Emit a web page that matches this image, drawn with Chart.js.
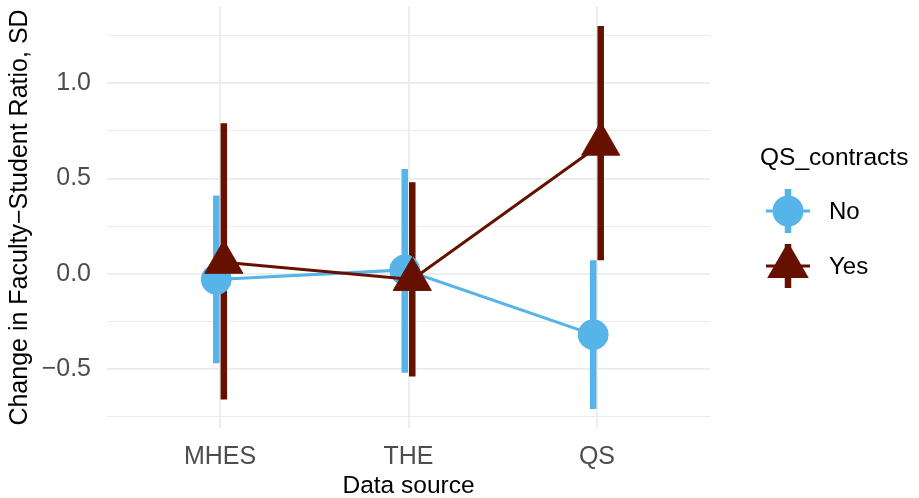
<!DOCTYPE html>
<html>
<head>
<meta charset="utf-8">
<script src="https://cdn.jsdelivr.net/npm/chart.js@4/dist/chart.umd.min.js"></script>
<style>
    html, body { margin: 0; padding: 0; background: #fff; }
    #wrap { position: relative; width: 919px; height: 498px; }
    #legend { position: absolute; left: 760px; top: 140px; font-family: "Liberation Sans", Arial, sans-serif; color: #000; }
    #legend .title { font-size: 24.5px; line-height: 34px; margin-bottom: 9px; }
    #legend .row { display: flex; align-items: center; height: 55px; }
    #legend .row canvas { margin-left: 6px; margin-right: 19px; }
    #legend .row span { font-size: 24px; }
</style>
</head>
<body>
<div id="wrap">
    <canvas id="chart" width="919" height="498"></canvas>
    <div id="legend"></div>
</div>
<script>
// Data
const sources = ['MHES', 'THE', 'QS'];
const groups = ['No', 'Yes'];
const noMean = [-0.03, 0.02, -0.32];
const noLow = [-0.47, -0.52, -0.71];
const noHigh = [0.41, 0.55, 0.07];
const yesMean = [0.06, -0.03, 0.68];
const yesLow = [-0.66, -0.54, 0.07];
const yesHigh = [0.79, 0.48, 1.30];
const yTicks = [-0.75, -0.5, -0.25, 0, 0.25, 0.5, 0.75, 1.0, 1.25];

const COLORS = { No: '#56B4E9', Yes: '#661100' };
const DODGE = 0.02;
const FONT = '"Liberation Sans", Arial, sans-serif';
const GRID = '#EBEBEB';

function meanPoints(mean, shift) {
    return sources.map((s, i) => ({ x: i + 1 + shift, y: mean[i] }));
}

// vertical segments, separated by gaps
function rangeSegments(low, high, shift) {
    const pts = [];
    sources.forEach((s, i) => {
        const x = i + 1 + shift;
        pts.push({ x, y: low[i] }, { x, y: high[i] }, { x, y: null });
    });
    return pts;
}

function fmt(v) {
    const s = Math.abs(v).toFixed(1);
    return v < 0 ? '\u2212' + s : s;
}

const isMajor = (v) => Math.abs(v * 2 - Math.round(v * 2)) < 1e-6;

const chart = new Chart(document.getElementById('chart'), {
    type: 'line',
    data: {
        datasets: [
            {
                label: 'No range',
                data: rangeSegments(noLow, noHigh, -DODGE),
                borderColor: COLORS.No,
                borderWidth: 6.5,
                borderCapStyle: 'butt',
                pointRadius: 0,
                spanGaps: false,
                order: 4,
            },
            {
                label: 'Yes range',
                data: rangeSegments(yesLow, yesHigh, DODGE),
                borderColor: COLORS.Yes,
                borderWidth: 6.5,
                borderCapStyle: 'butt',
                pointRadius: 0,
                spanGaps: false,
                order: 3,
            },
            {
                label: 'No',
                data: meanPoints(noMean, -DODGE),
                borderColor: COLORS.No,
                backgroundColor: COLORS.No,
                borderWidth: 3,
                pointStyle: 'circle',
                pointRadius: 15,
                pointBorderWidth: 1,
                order: 2,
            },
            {
                label: 'Yes',
                data: meanPoints(yesMean, DODGE),
                borderColor: COLORS.Yes,
                backgroundColor: COLORS.Yes,
                borderWidth: 3,
                pointStyle: 'triangle',
                pointRadius: 22,
                pointBorderWidth: 1,
                order: 1,
            },
        ],
    },
    options: {
        responsive: false,
        animation: false,
        layout: { autoPadding: false, padding: { top: 7, right: 209, left: 0, bottom: 0 } },
        plugins: {
            legend: { display: false },
            tooltip: { enabled: false },
        },
        scales: {
            x: {
                type: 'linear',
                min: 0.4,
                max: 3.6,
                afterBuildTicks: (scale) => {
                    scale.ticks = sources.map((s, i) => ({ value: i + 1 }));
                },
                afterFit: (scale) => {
                    scale.height = 70;
                    scale.paddingLeft = 0;
                    scale.paddingRight = 0;
                },
                grid: { color: GRID, lineWidth: 1.8, drawTicks: false },
                border: { display: false },
                ticks: {
                    padding: 14,
                    color: '#4D4D4D',
                    font: { family: FONT, size: 25 },
                    callback: (v) => sources[Math.round(v) - 1] || '',
                },
                title: {
                    display: true,
                    text: 'Data source',
                    color: '#000',
                    font: { family: FONT, size: 24.5, lineHeight: 1.0 },
                    padding: { top: 0, bottom: 0 },
                },
            },
            y: {
                type: 'linear',
                min: -0.81,
                max: 1.40,
                afterBuildTicks: (scale) => {
                    scale.ticks = yTicks.map((v) => ({ value: v }));
                },
                afterFit: (scale) => {
                    scale.width = 107;
                    scale.paddingTop = 0;
                    scale.paddingBottom = 0;
                },
                grid: {
                    color: GRID,
                    drawTicks: false,
                    lineWidth: (ctx) => (ctx.tick && isMajor(ctx.tick.value) ? 1.8 : 1.1),
                },
                border: { display: false },
                ticks: {
                    padding: 16,
                    color: '#4D4D4D',
                    font: { family: FONT, size: 25 },
                    callback: (v) => (isMajor(v) ? fmt(v) : ''),
                },
                title: {
                    display: true,
                    text: 'Change in Faculty\u2212Student Ratio, SD',
                    color: '#000',
                    font: { family: FONT, size: 25, lineHeight: 1.0 },
                    padding: { top: 8, bottom: 0 },
                },
            },
        },
    },
});

// --- Legend (HTML, keys drawn on small canvases) ---
function drawKey(canvas, group) {
    const c = canvas.getContext('2d');
    const w = canvas.width, h = canvas.height;
    const cx = w / 2, cy = h / 2;
    c.strokeStyle = COLORS[group];
    c.fillStyle = COLORS[group];
    c.lineWidth = 3;
    c.beginPath(); c.moveTo(0, cy); c.lineTo(w, cy); c.stroke();
    c.lineWidth = 6.5;
    c.beginPath(); c.moveTo(cx, 0); c.lineTo(cx, h); c.stroke();
    c.beginPath();
    if (group === 'No') {
        c.arc(cx, cy, 15.5, 0, Math.PI * 2);
    } else {
        const r = 24;
        c.moveTo(cx, cy - r);
        c.lineTo(cx + r * 0.866, cy + r / 2);
        c.lineTo(cx - r * 0.866, cy + r / 2);
        c.closePath();
    }
    c.fill();
}

const legend = document.getElementById('legend');
const title = document.createElement('div');
title.className = 'title';
title.textContent = 'QS_contracts';
legend.appendChild(title);
groups.forEach((g) => {
    const row = document.createElement('div');
    row.className = 'row';
    const key = document.createElement('canvas');
    key.width = 44; key.height = 44;
    drawKey(key, g);
    const label = document.createElement('span');
    label.textContent = g;
    row.appendChild(key);
    row.appendChild(label);
    legend.appendChild(row);
});
</script>
</body>
</html>
